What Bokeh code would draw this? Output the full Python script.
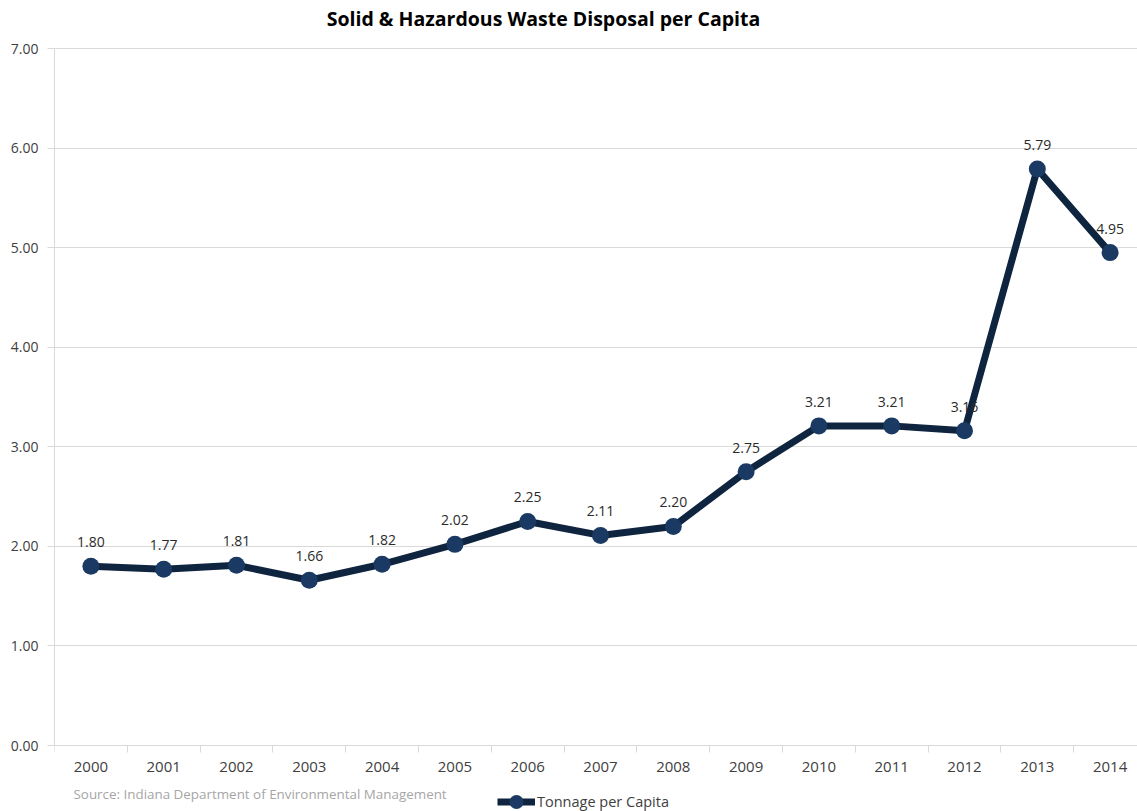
from bokeh.plotting import figure
from bokeh.models import (Range1d, FixedTicker, NumeralTickFormatter, Label,
                          Legend, LegendItem, ColumnDataSource)
from bokeh.embed import file_html
from bokeh.resources import INLINE
from bokeh.core.properties import value

# ---- data ----
years = [2000, 2001, 2002, 2003, 2004, 2005, 2006, 2007, 2008, 2009, 2010, 2011, 2012, 2013, 2014]
tonnage_per_capita = [1.80, 1.77, 1.81, 1.66, 1.82, 2.02, 2.25, 2.11, 2.20, 2.75, 3.21, 3.21, 3.16, 5.79, 4.95]
y_ticks = [0, 1, 2, 3, 4, 5, 6, 7]
title_text = "Solid & Hazardous Waste Disposal per Capita"
source_text = "Source: Indiana Department of Environmental Management"
series_name = "Tonnage per Capita"

FONT = "Open Sans"
LINE_COLOR = "#0F243E"
MARK_COLOR = "#1A3A63"
GRID = "#D9D9D9"
LABEL_COLOR = "#404040"
DATA_LABEL_COLOR = "#2B2B2B"

# ---- layout (pixels) ----
W, H = 1137, 811
left = 54            # plot-area left edge
top_px = 48          # pixel row of the top gridline
bottom_px = 745      # pixel row of the zero line
band = 72.8          # width of one year band
frame_w = W - left
ppu = (bottom_px - top_px) / (y_ticks[-1] - y_ticks[0])
y_lo = y_ticks[0] - (H - bottom_px) / ppu
y_hi = y_ticks[-1] + top_px / ppu

src = ColumnDataSource(dict(
    x=years, y=tonnage_per_capita,
    lbl=["%.2f" % v for v in tonnage_per_capita],
))

p = figure(width=W, height=H, output_backend="svg", toolbar_location=None,
           x_range=Range1d(years[0] - 0.5, years[0] - 0.5 + frame_w / band),
           y_range=Range1d(y_lo, y_hi),
           min_border_left=left, min_border_right=0,
           min_border_top=0, min_border_bottom=0)
p.outline_line_color = None
p.background_fill_color = "white"
p.border_fill_color = "white"

# x axis drawn at zero
p.xaxis.fixed_location = 0
p.xaxis.ticker = FixedTicker(ticks=years, minor_ticks=[y - 0.5 for y in years] + [years[-1] + 0.5])
p.xaxis.formatter = NumeralTickFormatter(format="0")
p.xaxis.major_tick_out = 0
p.xaxis.major_tick_in = 0
p.xaxis.minor_tick_out = 7
p.xaxis.minor_tick_in = 0
p.xaxis.minor_tick_line_color = GRID
p.xaxis.axis_line_color = GRID
p.xaxis.major_label_standoff = 9
p.xaxis.major_label_text_font = FONT
p.xaxis.major_label_text_font_size = "15px"
p.xaxis.major_label_text_color = LABEL_COLOR

p.yaxis.bounds = (y_ticks[0], y_ticks[-1])
p.yaxis.ticker = FixedTicker(ticks=y_ticks)
p.yaxis.formatter = NumeralTickFormatter(format="0.00")
p.yaxis.major_tick_out = 7
p.yaxis.major_tick_in = 0
p.yaxis.minor_tick_out = 0
p.yaxis.minor_tick_in = 0
p.yaxis.major_tick_line_color = GRID
p.yaxis.axis_line_color = GRID
p.yaxis.major_label_standoff = 9
p.yaxis.major_label_text_font = FONT
p.yaxis.major_label_text_font_size = "14px"
p.yaxis.major_label_text_color = LABEL_COLOR

p.xgrid.grid_line_color = None
p.ygrid.grid_line_color = GRID
p.ygrid.grid_line_width = 1

# series
ln = p.line("x", "y", source=src, line_color=LINE_COLOR, line_width=7)
sc = p.scatter("x", "y", source=src, marker="circle", size=17,
               fill_color=MARK_COLOR, line_color=MARK_COLOR, line_width=0)
p.text("x", "y", text="lbl", source=src, y_offset=-24,
       text_align="center", text_baseline="middle",
       text_font=value(FONT), text_font_size="14px", text_color=DATA_LABEL_COLOR)

# title
p.add_layout(Label(x=543 - left, y=H - 18, x_units="screen", y_units="screen",
                   text=title_text, text_align="center", text_baseline="middle",
                   text_font=FONT, text_font_style="bold", text_font_size="19.5px",
                   text_color="black"))
# source note
p.add_layout(Label(x=73 - left, y=H - 793, x_units="screen", y_units="screen",
                   text=source_text, text_align="left", text_baseline="middle",
                   text_font=FONT, text_font_size="13.4px", text_color="#A6A6A6"))

legend = Legend(items=[LegendItem(label=series_name, renderers=[ln, sc])],
                location=(497 - left, -8), orientation="horizontal",
                padding=0, margin=0, spacing=0, glyph_width=38, glyph_height=35,
                label_standoff=2, border_line_color=None, background_fill_alpha=0,
                label_text_font=FONT, label_text_font_size="14.5px",
                label_text_color=LABEL_COLOR)
p.add_layout(legend)

open("out.html", "w").write(file_html(p, INLINE))
